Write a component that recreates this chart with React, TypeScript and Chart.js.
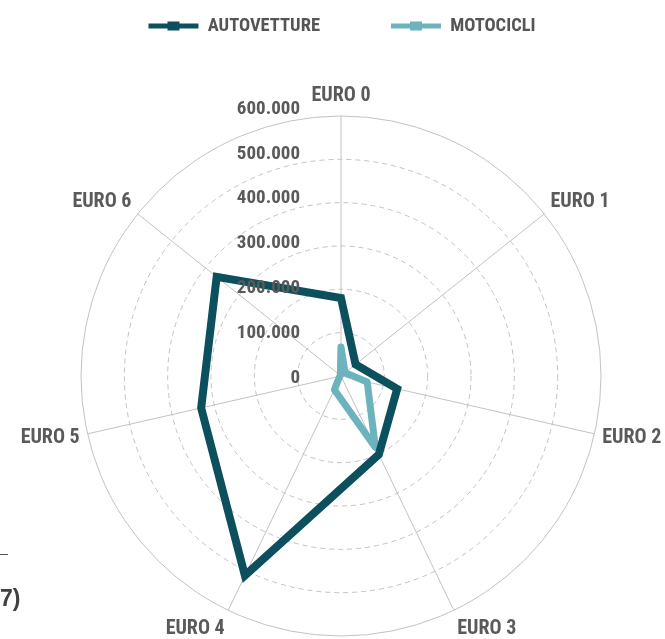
import React, { useEffect, useRef } from "react";
import { Chart, registerables } from "chart.js";

Chart.register(...registerables);

const categories = ["EURO 0", "EURO 1", "EURO 2", "EURO 3", "EURO 4", "EURO 5", "EURO 6"];
const autovetture = [180000, 43000, 133000, 201000, 511000, 331000, 367000];
const motocicli = [67000, 12000, 62000, 183000, 35000, 3000, 2000];
const tickValues = [0, 100000, 200000, 300000, 400000, 500000, 600000];
const tickLabels = ["0", "100.000", "200.000", "300.000", "400.000", "500.000", "600.000"];

const FONT = "'Roboto Condensed', Roboto, sans-serif";
const WEIGHT = "bold condensed";
const DARK = "#0b505c";
const LIGHT = "#6cb3bd";
const TEXT = "#5a5a5a";
const GRID = "#c2c2c2";
const LEGEND_SIZE = 18.5;

const tickLabelPlugin = {
  id: "tickLabelPlugin",
  afterDatasetsDraw(chart: any) {
    const s = chart.scales.r;
    const ctx = chart.ctx;
    ctx.save();
    ctx.font = `${WEIGHT} 19px ${FONT}`;
    ctx.fillStyle = TEXT;
    ctx.textAlign = "right";
    ctx.textBaseline = "middle";
    tickValues.forEach((v, i) => {
      const d = s.getDistanceFromCenterForValue(v);
      ctx.fillText(tickLabels[i], s.xCenter - 41, s.yCenter + 2 - d * 1.035);
    });
    ctx.restore();
  },
};

const legendMarkerPlugin = {
  id: "legendMarkerPlugin",
  afterDraw(chart: any) {
    const lg = chart.legend;
    if (!lg || !lg.legendHitBoxes) return;
    const ctx = chart.ctx;
    ctx.save();
    lg.legendHitBoxes.forEach((hb: any, i: number) => {
      const item = lg.legendItems[i];
      ctx.fillStyle = item.fillStyle;
      ctx.fillRect(hb.left + 25 - 6, hb.top + LEGEND_SIZE / 2 - 4.5, 12, 9);
    });
    ctx.restore();
  },
};

export default function App() {
  const ref = useRef<HTMLCanvasElement | null>(null);

  useEffect(() => {
    if (!ref.current) return;
    const chart = new Chart(ref.current, {
      type: "radar",
      data: {
        labels: categories,
        datasets: [
          {
            label: "AUTOVETTURE",
            data: autovetture,
            borderColor: DARK,
            backgroundColor: DARK,
            borderWidth: 8,
            pointRadius: 0,
            pointHoverRadius: 0,
            fill: false,
          },
          {
            label: "MOTOCICLI",
            data: motocicli,
            borderColor: LIGHT,
            backgroundColor: LIGHT,
            borderWidth: 7,
            pointRadius: 0,
            pointHoverRadius: 0,
            fill: false,
            borderJoinStyle: "round",
          },
        ],
      },
      options: {
        animation: false,
        responsive: true,
        maintainAspectRatio: false,
        layout: { padding: { left: 19, right: 0, top: -54.25, bottom: 0 } },
        plugins: {
          tooltip: { enabled: false },
          legend: {
            position: "top",
            labels: {
              boxWidth: 50,
              boxHeight: 5,
              padding: 71,
              color: "#555555",
              font: { family: FONT, size: LEGEND_SIZE, weight: WEIGHT },
              generateLabels: (c: any) =>
                Chart.defaults.plugins.legend.labels
                  .generateLabels(c)
                  .map((l: any) => ({ ...l, lineWidth: 0, fillStyle: l.strokeStyle })),
            },
          },
          title: {
            display: true,
            text: "",
            weight: 500,
            padding: { top: 0, bottom: 12.75 },
            font: { size: 10 },
          } as any,
        },
        scales: {
          r: {
            min: 0,
            max: 600000,
            ticks: { stepSize: 100000, display: false },
            angleLines: { color: GRID, lineWidth: 1 },
            grid: { circular: true, color: GRID, lineWidth: 1 },
            border: {
              dash: (ctx: any) => (ctx.index === tickValues.length - 1 ? [] : [5, 4]),
            } as any,
            pointLabels: {
              padding: 8,
              color: TEXT,
              font: (ctx: any) => ({
                family: FONT,
                size: 20,
                weight: WEIGHT,
                lineHeight:
                  ctx.index === 2 || ctx.index === 5
                    ? 0.2
                    : ctx.index === 1 || ctx.index === 6
                    ? 0.7
                    : 1.2,
              }),
            },
          },
        },
      } as any,
      plugins: [tickLabelPlugin, legendMarkerPlugin],
    });
    return () => chart.destroy();
  }, []);

  return (
    <div
      style={{
        position: "fixed",
        left: 0,
        top: 0,
        width: 665,
        height: 639,
        overflow: "hidden",
        background: "#fff",
      }}
    >
      <div style={{ position: "absolute", left: 0, top: 0, width: 665, height: 654 }}>
        <canvas ref={ref} />
      </div>
      <div
        style={{
          position: "absolute",
          left: 0,
          top: 554,
          width: 8,
          height: 1,
          background: "#555",
        }}
      />
      <div
        style={{
          position: "absolute",
          left: 0,
          top: 587,
          fontFamily: "'Liberation Sans', Arial, sans-serif",
          fontWeight: "bold",
          fontSize: 23,
          lineHeight: 1,
          color: "#404040",
        }}
      >
        7)
      </div>
    </div>
  );
}
